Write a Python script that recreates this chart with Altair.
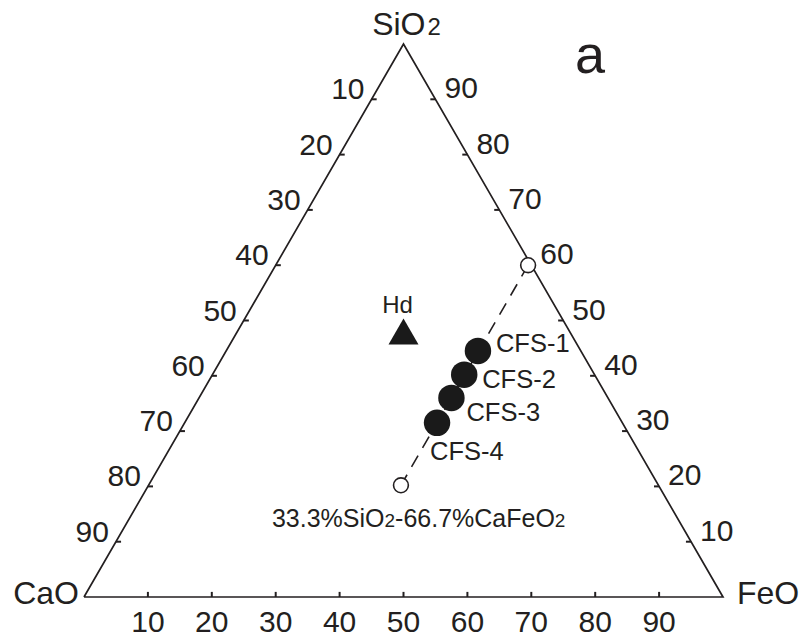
import math
import altair as alt
import pandas as pd

# ---- compositions (wt%) -------------------------------------------------
sample_names = ["CFS-1", "CFS-2", "CFS-3", "CFS-4"]
sample_cao = [16.1, 20.4, 24.5, 29.0]
sample_sio2 = [44.5, 40.2, 36.0, 31.5]
sample_feo = [39.4, 39.4, 39.5, 39.5]

hd_name = ["Hd"]
hd_cao = [26.0]
hd_sio2 = [48.0]
hd_feo = [26.0]

# end members of the join through the samples
join_cao = [0.5, 40.3]
join_sio2 = [60.0, 20.2]
join_feo = [39.5, 39.5]

tick_values = [10, 20, 30, 40, 50, 60, 70, 80, 90]

vertex_names = ["CaO", "FeO", "SiO2"]
vertex_cao = [100, 0, 0]
vertex_sio2 = [0, 0, 100]
vertex_feo = [0, 100, 0]

# ---- layout --------------------------------------------------------------
FONT = "Liberation Sans"
INK = "#231f20"
H = math.sqrt(3) / 2
PLOT_W = 639
PLOT_H = round(PLOT_W * H)
TICK_LEN = 0.8  # data units (about 5 px)

xs = alt.Scale(domain=[0, 100], nice=False, zero=False)
ys = alt.Scale(domain=[0, 100 * H], nice=False, zero=False)


def ternary(chart):
    """Project CaO-SiO2-FeO compositions onto the triangle."""
    return chart.transform_calculate(
        px="datum.FeO + datum.SiO2 / 2",
        py=f"datum.SiO2 * {H}",
    )


X = alt.X("px:Q", scale=xs, axis=None)
Y = alt.Y("py:Q", scale=ys, axis=None)

samples = pd.DataFrame({"name": sample_names, "CaO": sample_cao,
                        "SiO2": sample_sio2, "FeO": sample_feo})
hd = pd.DataFrame({"name": hd_name, "CaO": hd_cao, "SiO2": hd_sio2, "FeO": hd_feo})
join = pd.DataFrame({"CaO": join_cao, "SiO2": join_sio2, "FeO": join_feo,
                     "k": list(range(len(join_cao)))})

outline_rows = list(range(len(vertex_names))) + [0]
outline = pd.DataFrame({
    "CaO": [vertex_cao[i] for i in outline_rows],
    "SiO2": [vertex_sio2[i] for i in outline_rows],
    "FeO": [vertex_feo[i] for i in outline_rows],
    "k": list(range(len(outline_rows))),
})
vertices = pd.DataFrame({"name": vertex_names, "CaO": vertex_cao,
                         "SiO2": vertex_sio2, "FeO": vertex_feo})

tick_rows = []
for v in tick_values:
    tick_rows.append({"edge": "left", "label": str(v), "CaO": v, "SiO2": 100 - v, "FeO": 0})
    tick_rows.append({"edge": "right", "label": str(v), "CaO": 0, "SiO2": v, "FeO": 100 - v})
    tick_rows.append({"edge": "bottom", "label": str(v), "CaO": 100 - v, "SiO2": 0, "FeO": v})
ticks = pd.DataFrame(tick_rows)

# ---- layers --------------------------------------------------------------
frame = ternary(alt.Chart(outline)).mark_line(
    color=INK, strokeWidth=1.7, strokeJoin="miter"
).encode(x=X, y=Y, order="k:Q")

tick_marks = ternary(alt.Chart(ticks)).transform_calculate(
    px2=f"datum.edge == 'left' ? datum.px + {TICK_LEN} : datum.edge == 'right' ? datum.px - {TICK_LEN} : datum.px",
    py2=f"datum.edge == 'bottom' ? datum.py + {TICK_LEN} : datum.py",
).mark_rule(color=INK, strokeWidth=2).encode(
    x=X, y=Y, x2="px2:Q", y2="py2:Q"
)


def tick_labels(edge, **kw):
    return ternary(alt.Chart(ticks)).transform_filter(
        f"datum.edge == '{edge}'"
    ).mark_text(font=FONT, fontSize=30, color=INK, baseline="middle", **kw).encode(
        x=X, y=Y, text="label:N"
    )


left_labels = tick_labels("left", align="right", dx=-7, dy=-9)
right_labels = tick_labels("right", align="left", dx=9, dy=-10)
bottom_labels = tick_labels("bottom", align="center", dy=26)


def vertex_label(name, text, size, **kw):
    return ternary(alt.Chart(vertices)).transform_filter(
        f"datum.name == '{name}'"
    ).mark_text(font=FONT, fontSize=size, color=INK, text=text, **kw).encode(x=X, y=Y)


cao_label = vertex_label("CaO", "CaO", 32, align="right", baseline="middle", dx=-5, dy=-3)
feo_label = vertex_label("FeO", "FeO", 32, align="left", baseline="middle", dx=14, dy=-3)
sio_label = vertex_label("SiO2", "SiO", 32, align="right", baseline="alphabetic", dx=22, dy=-9)
sio_sub = vertex_label("SiO2", "2", 24, align="left", baseline="alphabetic", dx=24, dy=-9)

join_line = ternary(alt.Chart(join)).mark_line(
    color=INK, strokeWidth=1.6, strokeDash=[13, 9]
).encode(x=X, y=Y, order="k:Q")

join_ends = ternary(alt.Chart(join)).mark_point(
    shape="circle", filled=True, fill="white", stroke=INK, strokeWidth=1.6,
    size=220, opacity=1
).encode(x=X, y=Y)

sample_dots = ternary(alt.Chart(samples)).mark_circle(
    color="#1a1a1a", size=700, opacity=1
).encode(x=X, y=Y)

hd_mark = ternary(alt.Chart(hd)).mark_point(
    shape="triangle-up", filled=True, color="#1a1a1a", size=900, opacity=1
).encode(x=X, y=Y)

hd_text = ternary(alt.Chart(hd)).mark_text(
    font=FONT, fontSize=24, color=INK, align="center", baseline="middle", dx=-6, dy=-26
).encode(x=X, y=Y, text="name:N")

# sample labels, each nudged clear of its dot
label_offsets = {"CFS-1": (18, -7), "CFS-2": (18, 5), "CFS-3": (15, 15), "CFS-4": (-7, 29)}
sample_texts = [
    ternary(alt.Chart(samples)).transform_filter(f"datum.name == '{n}'").mark_text(
        font=FONT, fontSize=25.5, color=INK, align="left", baseline="middle", dx=dx, dy=dy
    ).encode(x=X, y=Y, text="name:N")
    for n, (dx, dy) in label_offsets.items()
]

# caption of the lower end member, with true (smaller) subscripts
ARIAL = {"0": .556, "1": .556, "2": .556, "3": .556, "6": .556, "7": .556,
         ".": .278, "%": .889, "-": .333, "S": .667, "i": .222, "O": .778,
         "C": .722, "a": .556, "F": .611, "e": .556}
caption_parts = [("33.3%SiO", 25), ("2", 19), ("-66.7%CaFeO", 25), ("2", 19)]
caption_layers = []
cursor = -129.0
low_end = join.iloc[[1]]
for txt, size in caption_parts:
    caption_layers.append(
        ternary(alt.Chart(low_end)).mark_text(
            font=FONT, fontSize=size, color=INK, text=txt, align="left",
            baseline="alphabetic", dx=cursor, dy=42
        ).encode(x=X, y=Y)
    )
    cursor += sum(ARIAL[c] for c in txt) * size

panel_letter = alt.Chart(pd.DataFrame({"t": ["a"]})).mark_text(
    font=FONT, fontSize=54, color=INK, align="center", baseline="alphabetic"
).encode(x=alt.value(506), y=alt.value(29), text="t:N")

chart = alt.layer(
    frame, tick_marks, left_labels, right_labels, bottom_labels,
    cao_label, feo_label, sio_label, sio_sub,
    join_line, sample_dots, join_ends, hd_mark, hd_text,
    *sample_texts, *caption_layers, panel_letter,
).properties(
    width=PLOT_W, height=PLOT_H,
    autosize=alt.AutoSizeParams(type="none"),
    padding={"left": 84, "top": 44, "right": 806 - 84 - PLOT_W, "bottom": 640 - 44 - PLOT_H},
    background="white",
).configure_view(stroke=None)

chart.save("out.html", embed_options={"renderer": "svg", "actions": False})
